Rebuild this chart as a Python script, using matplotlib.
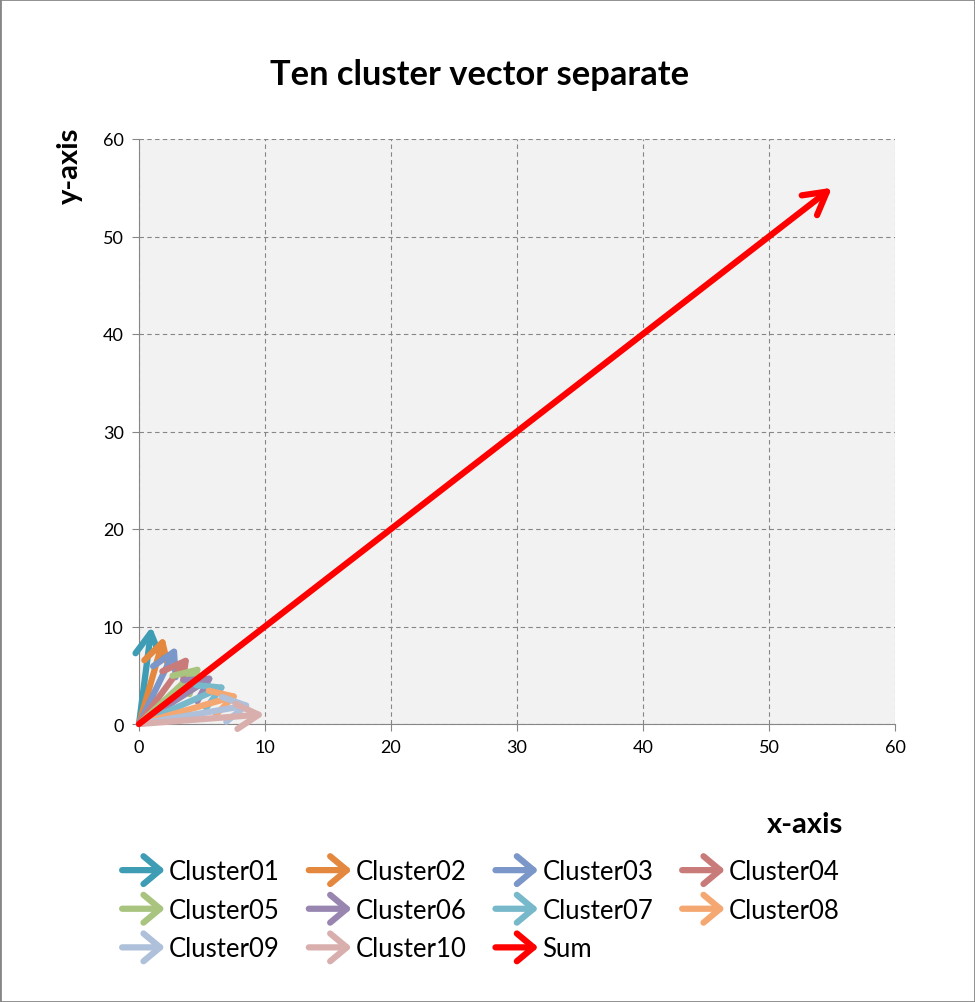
import matplotlib
matplotlib.use("Agg")
import matplotlib.pyplot as plt
from matplotlib.patches import FancyArrowPatch, Rectangle
from matplotlib.legend_handler import HandlerBase

plt.rcParams['font.family'] = ['Lato', 'DejaVu Sans']

# vector end points (all start at origin)
names = ['Cluster01', 'Cluster02', 'Cluster03', 'Cluster04', 'Cluster05',
         'Cluster06', 'Cluster07', 'Cluster08', 'Cluster09', 'Cluster10']
x_end = [1, 2, 3, 4, 5, 6, 7, 8, 9, 10]
y_end = [10, 9, 8, 7, 6, 5, 4, 3, 2, 1]
sum_x = 55
sum_y = 55
colors = ['#3E9DB4', '#E3883E', '#7B96C8', '#C97B7A', '#A9C47F',
          '#9886B1', '#78B8CB', '#F5A772', '#AEC0DA', '#D9AFAE']
ticks = [0, 10, 20, 30, 40, 50, 60]

astyle = '->,head_length=0.8,head_width=0.45'


class ArrowHandler(HandlerBase):
    # draw the legend key as a small arrow
    def create_artists(self, legend, orig, xdescent, ydescent, width, height,
                       fontsize, trans):
        y = height / 2 - ydescent
        a = FancyArrowPatch((-xdescent, y), (-xdescent + width, y),
                            arrowstyle='->,head_length=0.6,head_width=0.5',
                            mutation_scale=orig.get_mutation_scale(),
                            lw=orig.get_linewidth(), color=orig.get_edgecolor(),
                            shrinkA=0, shrinkB=0, transform=trans,
                            capstyle='round', joinstyle='round')
        return [a]


fig = plt.figure(figsize=(9.75, 10.03), dpi=100)
ax = fig.add_axes([139/975, 1-725/1003, 756/975, 585/1003])
ax.set_facecolor('#F2F2F2')

handles = []
for n, xe, ye, c in zip(names, x_end, y_end, colors):
    ann = ax.annotate('', xy=(xe, ye), xytext=(0, 0),
                      arrowprops=dict(arrowstyle=astyle, lw=4.5, color=c,
                                      mutation_scale=20, shrinkA=0, shrinkB=0,
                                      capstyle='round', joinstyle='round'))
    ann.arrow_patch.set_label(n)
    handles.append(ann.arrow_patch)
ann = ax.annotate('', xy=(sum_x, sum_y), xytext=(0, 0),
                  arrowprops=dict(arrowstyle=astyle, lw=4.5, color='#FF0000',
                                  mutation_scale=20, shrinkA=0, shrinkB=0,
                                  capstyle='round', joinstyle='round'))
ann.arrow_patch.set_label('Sum')
handles.append(ann.arrow_patch)

ax.set_xlim(0, 60)
ax.set_ylim(0, 60)
ax.set_xticks(ticks)
ax.set_yticks(ticks)
ax.grid(True, color='#868686', linestyle=(0, (4, 3)), linewidth=0.8)
ax.set_axisbelow(True)
for s in ['top', 'right']:
    ax.spines[s].set_visible(False)
for s in ['left', 'bottom']:
    ax.spines[s].set_color('#868686')
ax.tick_params(length=5, color='#868686', labelsize=13, pad=6)

fig.text(480/975, 1-75/1003, 'Ten cluster vector separate', ha='center', va='center',
         fontsize=24.8, fontweight='bold')
fig.text(70/975, 1-166/1003, 'y-axis', ha='center', va='center', rotation=90,
         fontsize=21, fontweight='bold')
fig.text(805/975, 1-825/1003, 'x-axis', ha='center', va='center',
         fontsize=21, fontweight='bold')

# legend is filled column by column, so order the handles to read row by row
order = [0, 4, 8, 1, 5, 9, 2, 6, 10, 3, 7]
labels = names + ['Sum']
fig.legend(handles=[handles[i] for i in order], labels=[labels[i] for i in order],
           ncol=4, handler_map={FancyArrowPatch: ArrowHandler()},
           loc='upper left', bbox_to_anchor=(99/975, 1-837/1003),
           frameon=False, fontsize=18.5, handlelength=1.67, handletextpad=0.16,
           columnspacing=1.12, labelspacing=0.53)

fig.add_artist(Rectangle((0, 0), 1, 1, transform=fig.transFigure, fill=False,
                         edgecolor='#868686', lw=2))

fig.savefig('out.png', dpi=100)
